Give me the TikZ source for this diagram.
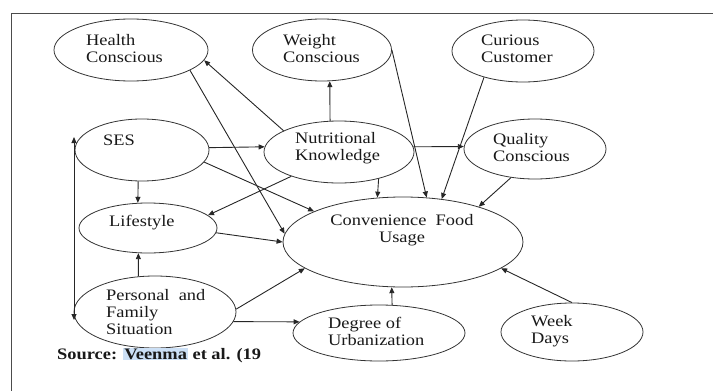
\documentclass[tikz,border=0pt]{standalone}
\usepackage{fontspec}
\setmainfont{Liberation Serif}[FakeStretch=1.15, BoldFont={Liberation Serif Bold}]
\usepackage{xcolor}
\usetikzlibrary{shapes.geometric}
\usetikzlibrary{arrows.meta}
\definecolor{hlblue}{RGB}{204,224,246}
\tikzset{
    ell/.style = {ellipse, draw=black!80, line width=0.8pt, inner sep=0pt},
    txt/.style = {anchor=west, align=left, inner sep=0pt, text=black!90},
}

\begin{document}
\begin{tikzpicture}[
	x=10pt, y=-10pt,
	font=\fontsize{16}{17}\selectfont
]
\tikzset{
    arr/.style = {-{Triangle[length=6pt,width=5pt]}, line width=0.9pt, black!85},
    darr/.style = {{Triangle[length=6pt,width=5pt]}-{Triangle[length=6pt,width=5pt]}, line width=0.9pt, black!85}
}
\useasboundingbox (0,0) rectangle (71.3,39.1);
\draw[line width=0.9pt, black!70] (71.3,1.3) -- (1.1,1.3) -- (1.1,39.1);
%
\node[ell, minimum width=154pt, minimum height=62pt] at (13.1,5.0) (hc) {};
\node[ell, minimum width=139pt, minimum height=62pt] at (32.2,5.0) (wc) {};
\node[ell, minimum width=142pt, minimum height=62pt] at (52.3,5.1) (cc) {};
\node[ell, minimum width=134pt, minimum height=62pt] at (14.2,15.0) (ses) {};
\node[ell, minimum width=150pt, minimum height=62pt] at (33.9,15.2) (nk) {};
\node[ell, minimum width=142pt, minimum height=60pt] at (53.5,14.9) (qc) {};
\node[ell, minimum width=138pt, minimum height=50pt] at (14.8,22.8) (ls) {};
\node[ell, minimum width=240pt, minimum height=90pt] at (40.3,24.2) (cfu) {};
\node[ell, minimum width=162pt, minimum height=72pt] at (15.5,31.2) (pfs) {};
\node[ell, minimum width=172pt, minimum height=56pt] at (37.9,33.3) (du) {};
\node[ell, minimum width=142pt, minimum height=58pt] at (57.2,33.2) (wd) {};
%
\node[txt] at (8.6,4.85) (hc-t) {Health\\Conscious};
\node[txt] at (28.3,4.85) (wc-t) {Weight\\Conscious};
\node[txt] at (48.1,4.85) (cc-t) {Curious\\Customer};
\node[txt] at (10.3,14.0) (ses-t) {SES};
\node[txt] at (29.5,14.85) (nk-t) {Nutritional\\Knowledge};
\node[txt] at (49.3,14.75) (qc-t) {Quality\\Conscious};
\node[txt] at (10.9,22.3) (ls-t) {Lifestyle};
\node[txt, anchor=center, align=center] at (40.2,23.0) (cfu-t) {Convenience~~Food\\Usage};
\node[txt] at (10.6,31.25) (pfs-t) {Personal~~and\\Family\\Situation};
\node[txt] at (32.8,33.15) (du-t) {Degree of\\Urbanization};
\node[txt] at (53.1,33.15) (wd-t) {Week\\Days};
\node[txt, font=\fontsize{16}{17}\selectfont\bfseries] at (5.7,35.5) (src)
    {Source: {\setlength{\fboxsep}{1pt}\colorbox{hlblue}{Veenma}} et al. (19};
%
\coordinate (sesl) at (7.4,13.7);
\coordinate (pfsl) at (7.4,32.0);
\draw[darr] (sesl) -- (pfsl);
%
\draw[arr] (nk.159) -- (hc.-8);
\draw[arr] (hc.-19) -- (cfu.176);
\draw[arr] (nk.106) -- (wc.-76);
\draw[arr] (wc.0) -- (cfu.62);
\draw[arr] (cc.-146) -- (cfu.48);
\draw[arr] (nk.4) -- (qc.178);
\draw[arr] (qc.-130) -- (cfu.25);
\draw[arr] (nk.-34) -- (cfu.120);
%
\draw[arr] (ses.2) -- (nk.176);
\draw[arr] (ses.-11) -- (cfu.161);
\draw[arr] (ses.-97) -- (ls.112);
\draw[arr] (nk.-153) -- (ls.12);
\draw[arr] (ls.-4) -- (cfu.180);
%
\draw[arr] (pfs.115) -- (ls.-111);
\draw[arr] (pfs.2) -- (cfu.-165);
\draw[arr] (pfs.-7) -- (du.172);
\draw[arr] (du.65) -- (cfu.-104);
\draw[arr] (wd.90) -- (cfu.-15);
\end{tikzpicture}
\end{document}
